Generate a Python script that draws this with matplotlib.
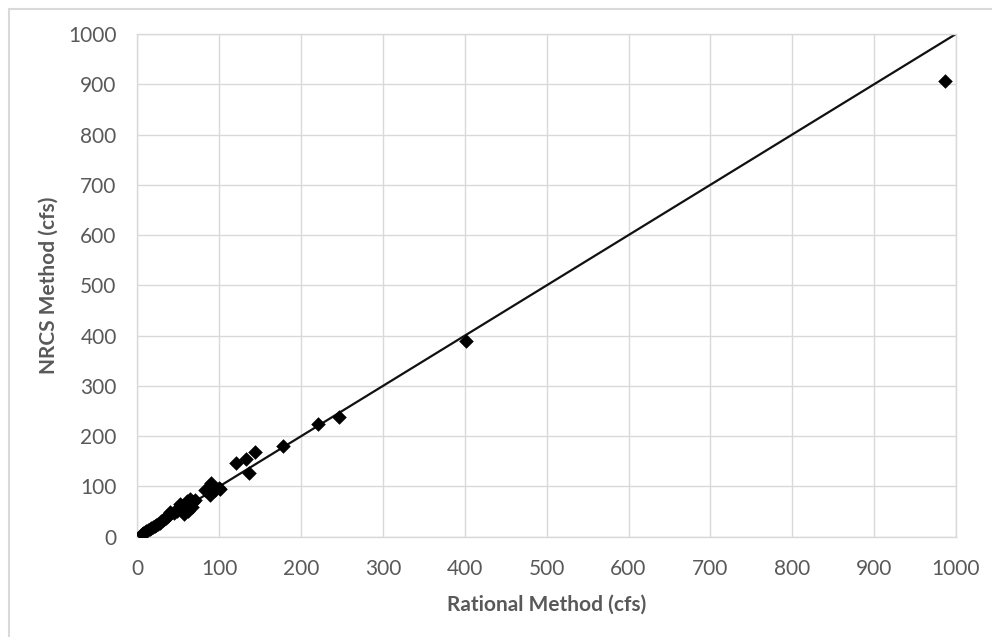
import matplotlib.pyplot as plt
from matplotlib.patches import Rectangle

# peak flow at each site, rational method vs NRCS method (cfs)
rational = [5, 7, 9, 11, 13, 15, 17, 19, 21, 23, 25, 27, 29, 31, 33, 35, 37, 39,
            40, 45, 48, 50, 52, 55, 57, 58, 60, 62, 64, 66, 68, 70,
            82, 88, 90, 92, 95, 99, 101, 120, 132, 144, 136, 178, 221, 246, 402, 987]
nrcs = [6, 8, 10, 12, 13, 16, 17, 20, 22, 24, 25, 28, 31, 33, 35, 38, 41, 45,
        50, 48, 52, 58, 65, 55, 45, 62, 70, 52, 75, 60, 68, 72,
        93, 83, 107, 95, 93, 96, 94, 146, 155, 168, 126, 180, 224, 238, 389, 907]

# 1:1 reference line
line_x = [5, 1000]
line_y = [5, 1000]

ticks = list(range(0, 1001, 100))

grey = '#595959'
plt.rcParams['font.family'] = ['Lato', 'DejaVu Sans']

fig = plt.figure(figsize=(9.92, 6.37), dpi=100)
ax = fig.add_axes([0.1386, 0.1575, 0.825, 0.7891])

# chart frame
fig.patches.append(Rectangle((9 / 992, -0.1), 1.2, 1.1 - 9 / 637, transform=fig.transFigure,
                             facecolor='none', edgecolor='#d9d9d9', linewidth=1.5))

ax.plot(line_x, line_y, color='#111111', linewidth=1.6, zorder=2)
ax.scatter(rational, nrcs, marker='D', s=55, color='black', linewidths=0, zorder=3)

ax.set_xlim(0, 1000)
ax.set_ylim(0, 1000)
ax.set_xticks(ticks)
ax.set_yticks(ticks)
ax.grid(True, color='#d9d9d9', linewidth=1.0)
ax.set_axisbelow(True)
for s in ax.spines.values():
    s.set_color('#d9d9d9')
    s.set_linewidth(1.0)

ax.tick_params(axis='both', length=0, labelsize=15, labelcolor=grey)
ax.tick_params(axis='x', pad=16)
ax.tick_params(axis='y', pad=15)

ax.set_xlabel('Rational Method (cfs)', fontsize=15, fontweight='bold', color=grey, labelpad=11)
ax.set_ylabel('NRCS Method (cfs)', fontsize=15, fontweight='bold', color=grey, labelpad=7)

fig.savefig('out.png', dpi=100)
